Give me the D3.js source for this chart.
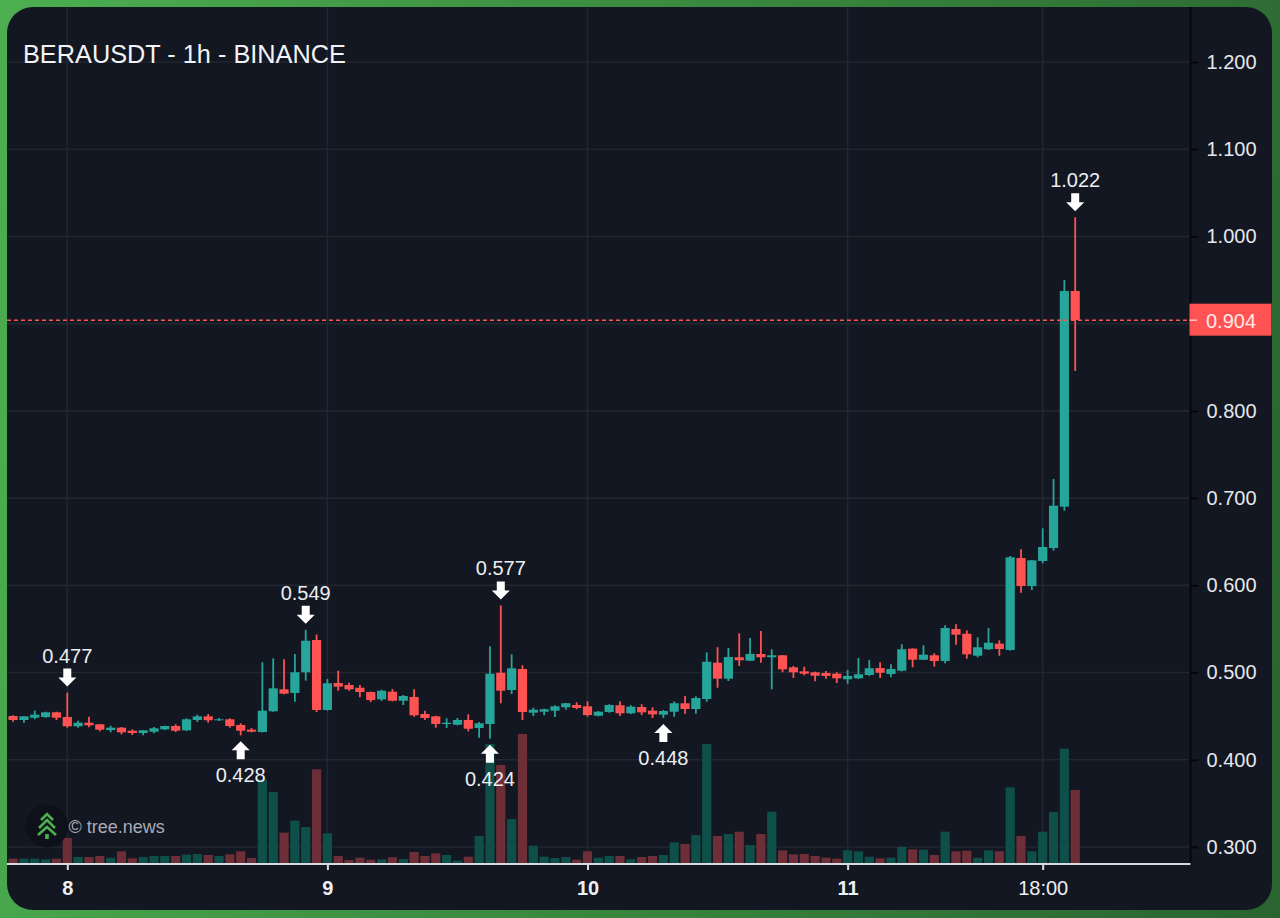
<!DOCTYPE html>
<html>
<head>
<meta charset="utf-8">
<title>BERAUSDT - 1h - BINANCE</title>
<script src="https://cdn.jsdelivr.net/npm/d3@7"></script>
<style>
  html, body { margin: 0; padding: 0; background: linear-gradient(100deg, #4caf50 0%, #3d8f42 40%, #2a6430 100%); }
  svg { display: block; font-family: "Liberation Sans", Arial, sans-serif; }
</style>
</head>
<body>
<svg id="chart" width="1280" height="918"></svg>
<script>
// hourly candles, first candle is 7th 19:00
const opens = [.4502,.4456,.4482,.4490,.4544,.4490,.4384,.4425,.4407,.4341,.4368,.4333,.4307,.4322,.4349,.4387,.4338,.4456,.4498,.4453,.4464,.4399,.4345,.4318,.4556,.4808,.4766,.5003,.5373,.4571,
  .4880,.4857,.4826,.4777,.4693,.4781,.4677,.4720,.4525,.4498,.4410,.4402,.4456,.4364,.4410,.4998,.4800,.5041,.4540,.4551,.4563,.4602,.4628,.4613,.4505,.4548,.4625,.4533,.4605,.4563,
  .4517,.4551,.4648,.4582,.4697,.5113,.4930,.5175,.5136,.5213,.5175,.5198,.5060,.5014,.5003,.4995,.4987,.4923,.4934,.4972,.5052,.4983,.5021,.5274,.5147,.5198,.5132,.5499,.5445,.5193,
  .5267,.5331,.5259,.6313,.5992,.6279,.6428,.6902,.9375];
const highs = [.4510,.4502,.4563,.4551,.4551,.4770,.4448,.4494,.4410,.4391,.4376,.4349,.4341,.4376,.4391,.4407,.4476,.4517,.4525,.4479,.4476,.4418,.4364,.5118,.5163,.5152,.5213,.5490,.5436,.4926,
  .5021,.4884,.4857,.4781,.4803,.4811,.4743,.4808,.4563,.4505,.4476,.4479,.4521,.4433,.5301,.5770,.5209,.5083,.4597,.4586,.4625,.4651,.4659,.4670,.4559,.4636,.4670,.4625,.4636,.4602,
  .4571,.4670,.4731,.4728,.5232,.5290,.5282,.5450,.5396,.5476,.5267,.5201,.5075,.5067,.5010,.5018,.5003,.5029,.5167,.5144,.5118,.5095,.5324,.5278,.5312,.5221,.5542,.5553,.5484,.5404,
  .5511,.5370,.6336,.6413,.6290,.6654,.7219,.9501,1.022];
const lows = [.4437,.4425,.4464,.4482,.4456,.4368,.4368,.4372,.4326,.4315,.4292,.4284,.4281,.4304,.4341,.4318,.4330,.4433,.4425,.4445,.4368,.4280,.4315,.4315,.4551,.4751,.4666,.4907,.4548,.4563,
  .4792,.4792,.4716,.4662,.4674,.4670,.4628,.4494,.4456,.4368,.4364,.4395,.4326,.4253,.4240,.4648,.4754,.4456,.4502,.4510,.4490,.4574,.4579,.4494,.4498,.4540,.4502,.4525,.4513,.4479,
  .4480,.4494,.4528,.4528,.4666,.4826,.4903,.5075,.5132,.5113,.4808,.5003,.4938,.4969,.4900,.4930,.4880,.4872,.4926,.4961,.4938,.4946,.5014,.5060,.5144,.5067,.5106,.5319,.5159,.5175,
  .5259,.5193,.5251,.5916,.5946,.6253,.6397,.6856,.8457];
const closes = [.4456,.4498,.4517,.4544,.4482,.4384,.4425,.4395,.4345,.4368,.4315,.4307,.4338,.4361,.4387,.4333,.4464,.4498,.4453,.4464,.4387,.4333,.4322,.4563,.4819,.4758,.5003,.5365,.4571,.4877,
  .4838,.4808,.4777,.4685,.4792,.4677,.4731,.4510,.4479,.4410,.4425,.4456,.4356,.4418,.4987,.4792,.5049,.4548,.4574,.4579,.4613,.4648,.4594,.4513,.4551,.4628,.4533,.4609,.4544,.4521,
  .4559,.4648,.4582,.4708,.5124,.4930,.5178,.5141,.5213,.5175,.5198,.5037,.5003,.4987,.4964,.4961,.4934,.4961,.4980,.5049,.4998,.5041,.5267,.5147,.5205,.5132,.5511,.5434,.5209,.5290,
  .5342,.5270,.6321,.5992,.6287,.6440,.6913,.9375,.9042];
const volumes = [5.3,5.3,5.3,4.7,5.3,26,7,7,8,6.3,12.7,5.7,7,8,8,8,9.3,10,9,8,9.7,12.7,6,84.5,72,31.3,43.3,37,94.7,30.7,
  8,4,6.3,4.3,4.7,6.7,5,12,8,10.7,9,3.3,7.3,28,120,99,45,130,18.3,7.3,6,7,4.3,12.7,6.3,8,8,4.7,7,8,
  9,21.7,20,29,120,28,30,32.3,19,30,52.3,13.7,9.7,10,8,6.3,5.3,13.7,12.7,7.3,5.7,6.3,17,14.7,14.3,9,32.3,12.7,13.3,6.3,
  13.7,12.7,76.7,28,12.7,32.3,52,115.3,74];

const priceTicks = [0.3, 0.4, 0.5, 0.6, 0.7, 0.8, 0.9, 1.0, 1.1, 1.2];
// 0.900 has no label, the last price tag sits on top of it
const priceLabels = [0.3, 0.4, 0.5, 0.6, 0.7, 0.8, 1.0, 1.1, 1.2];
const timeTicks = [5, 29, 53, 77, 95];
const timeLabels = ["8", "9", "10", "11", "18:00"];
const highMarks = [5, 27, 45, 98];
const highLabels = ["0.477", "0.549", "0.577", "1.022"];
const lowMarks = [21, 44, 60];
const lowLabels = ["0.428", "0.424", "0.448"];
const lastPrice = 0.904;

const teal = "#26a69a", red = "#ff5252";
const panel = { left: 7, top: 7, right: 1272, bottom: 910 };
const axisX = 1190.5, axisY = 864;

const svg = d3.select("#chart");

const x = d3.scaleLinear().domain([0, 98]).range([13.1, 1075.2]);
const y = d3.scaleLinear().domain([0.3, 1.2]).range([847, 62]);
const yVol = d3.scaleLinear().domain([0, 130]).range([axisY, 734]);

// panel
svg.append("rect")
  .attr("x", panel.left).attr("y", panel.top)
  .attr("width", panel.right - panel.left).attr("height", panel.bottom - panel.top)
  .attr("rx", 26).attr("fill", "#131722");

// grid
const grid = svg.append("g").attr("stroke", "#222631").attr("stroke-width", 1.6);
grid.selectAll("line.h").data(priceTicks).enter().append("line")
  .attr("class", "h")
  .attr("x1", panel.left).attr("x2", axisX)
  .attr("y1", d => y(d)).attr("y2", d => y(d));
grid.selectAll("line.v").data(timeTicks).enter().append("line")
  .attr("class", "v")
  .attr("x1", d => x(d)).attr("x2", d => x(d))
  .attr("y1", panel.top).attr("y2", axisY);

const idx = d3.range(opens.length);
const isUp = i => closes[i] >= opens[i];

// volume
svg.append("g").selectAll("rect").data(idx).enter().append("rect")
  .attr("x", i => x(i) - 4.6).attr("width", 9.2)
  .attr("y", i => yVol(volumes[i]))
  .attr("height", i => axisY - yVol(volumes[i]))
  .attr("fill", i => isUp(i) ? "#0f4f4a" : "#6e2e37");

// candles
const candles = svg.append("g");
candles.selectAll("line").data(idx).enter().append("line")
  .attr("x1", i => x(i)).attr("x2", i => x(i))
  .attr("y1", i => y(highs[i])).attr("y2", i => y(lows[i]))
  .attr("stroke", i => isUp(i) ? teal : red)
  .attr("stroke-width", 1.8);
candles.selectAll("rect").data(idx).enter().append("rect")
  .attr("x", i => x(i) - 4.6).attr("width", 9.2)
  .attr("y", i => y(Math.max(opens[i], closes[i])))
  .attr("height", i => Math.max(1, y(Math.min(opens[i], closes[i])) - y(Math.max(opens[i], closes[i]))))
  .attr("fill", i => isUp(i) ? teal : red);

// axes
const yAxis = d3.axisRight(y).tickValues(priceLabels).tickFormat(d3.format(".3f")).tickSize(8).tickPadding(8);
const yG = svg.append("g").attr("transform", `translate(${axisX},0)`).call(yAxis);
yG.select(".domain").remove();
yG.selectAll(".tick line").attr("stroke", "#05070c").attr("stroke-width", 2);
yG.selectAll(".tick text").attr("fill", "#e6e8ec").attr("font-size", 20)
  .attr("font-family", "'Liberation Sans', Arial, sans-serif");
svg.append("line").attr("x1", axisX).attr("x2", axisX).attr("y1", panel.top).attr("y2", axisY + 1)
  .attr("stroke", "#05070c").attr("stroke-width", 2);

const xAxis = d3.axisBottom(x).tickValues(timeTicks).tickFormat((d, i) => timeLabels[i]).tickSize(6).tickPadding(11);
const xG = svg.append("g").attr("transform", `translate(0,${axisY})`).call(xAxis);
xG.select(".domain").remove();
xG.selectAll(".tick line").attr("stroke", "#d8dade").attr("stroke-width", 2);
xG.selectAll(".tick text").attr("fill", "#eef0f3").attr("font-size", 20)
  .attr("font-family", "'Liberation Sans', Arial, sans-serif")
  .attr("font-weight", (d, i) => i < 4 ? "bold" : "normal");
svg.append("line").attr("x1", panel.left).attr("x2", axisX).attr("y1", axisY).attr("y2", axisY)
  .attr("stroke", "#d8dade").attr("stroke-width", 2);

// last price
svg.append("line")
  .attr("x1", panel.left).attr("x2", 1197)
  .attr("y1", y(lastPrice)).attr("y2", y(lastPrice))
  .attr("stroke", red).attr("stroke-width", 1.5).attr("stroke-dasharray", "4 3");
svg.append("rect").attr("x", axisX - 1).attr("y", y(lastPrice) - 16.5)
  .attr("width", 82).attr("height", 32).attr("fill", red);
svg.append("line")
  .attr("x1", axisX - 1).attr("x2", 1197)
  .attr("y1", y(lastPrice)).attr("y2", y(lastPrice))
  .attr("stroke", "#ffd6d6").attr("stroke-width", 1.3);
svg.append("text").attr("x", 1206).attr("y", y(lastPrice) + 7.5)
  .attr("font-size", 20).attr("fill", "#ffe9e9").text(lastPrice.toFixed(3));

// high / low markers
const arrowDown = "M-4,-18 H4 V-9 H9 L0,0 L-9,-9 H-4 Z";
const arrowUp = "M-4,18 H4 V9 H9 L0,0 L-9,9 H-4 Z";
const marks = svg.append("g").attr("fill", "#fff");
highMarks.forEach((i, k) => {
  const top = y(highs[i]);
  marks.append("path").attr("d", arrowDown).attr("transform", `translate(${x(i)},${top - 6})`);
  marks.append("text").attr("x", x(i)).attr("y", top - 30).attr("text-anchor", "middle")
    .attr("font-size", 20).attr("fill", "#eceef1").text(highLabels[k]);
});
lowMarks.forEach((i, k) => {
  const bot = y(lows[i]);
  marks.append("path").attr("d", arrowUp).attr("transform", `translate(${x(i)},${bot + 6})`);
  marks.append("text").attr("x", x(i)).attr("y", bot + 47).attr("text-anchor", "middle")
    .attr("font-size", 20).attr("fill", "#eceef1").text(lowLabels[k]);
});

// title
svg.append("text").attr("x", 23).attr("y", 63)
  .attr("font-size", 25.3).attr("fill", "#f2f3f5").text("BERAUSDT - 1h - BINANCE");

// watermark
const logo = svg.append("g").attr("transform", "translate(47,826)");
logo.append("circle").attr("r", 21.5).attr("fill", "#0e1119").attr("opacity", 0.9);
logo.append("path")
  .attr("d", "M-6,-6 L0,-12 L6,-6 M-8,2 L0,-6 L8,2 M-9,9 L0,1 L9,9")
  .attr("fill", "none").attr("stroke", "#4caf50").attr("stroke-width", 2.6);
logo.append("rect").attr("x", -1.8).attr("y", 8).attr("width", 3.6).attr("height", 5).attr("fill", "#4caf50");
svg.append("text").attr("x", 68.5).attr("y", 833)
  .attr("font-size", 18).attr("fill", "#a9acb3").text("© tree.news");
</script>
</body>
</html>
